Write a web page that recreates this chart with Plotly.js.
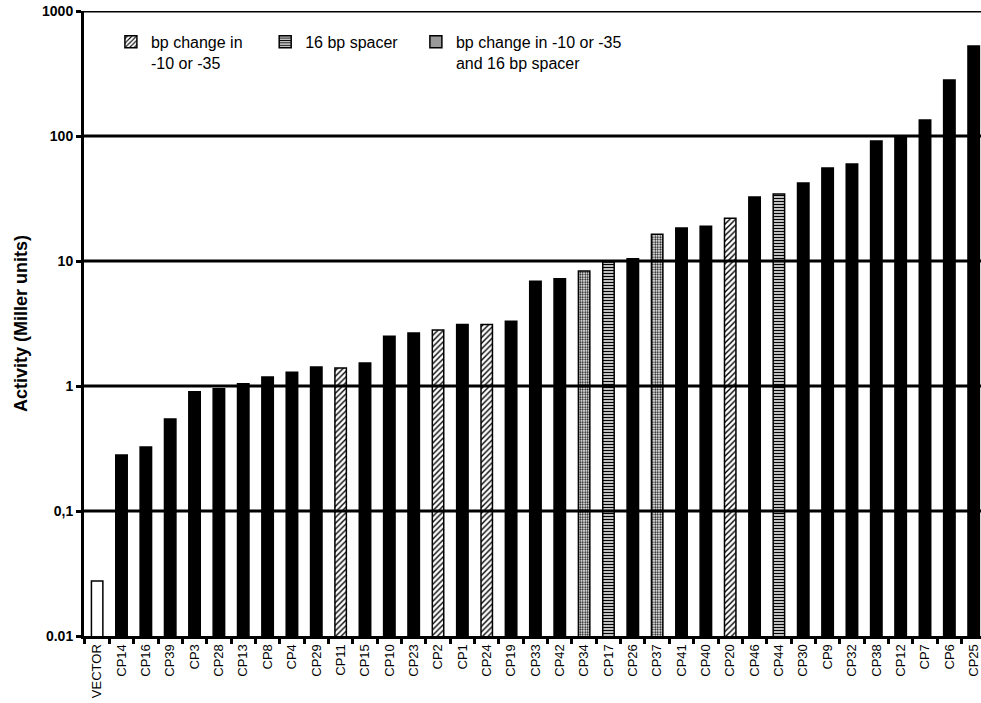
<!DOCTYPE html>
<html><head><meta charset="utf-8">
<script src="https://cdn.plot.ly/plotly-3.0.1.min.js"></script>
<style>html,body{margin:0;padding:0;background:#fff}</style>
</head><body>
<div id="chart" style="width:981px;height:703px"></div>
<script>
const categories = ["VECTOR","CP14","CP16","CP39","CP3","CP28","CP13","CP8","CP4","CP29","CP11","CP15","CP10","CP23","CP2","CP1","CP24","CP19","CP33","CP42","CP34","CP17","CP26","CP37","CP41","CP40","CP20","CP46","CP44","CP30","CP9","CP32","CP38","CP12","CP7","CP6","CP25"];
const activity = [0.0275,0.28,0.325,0.545,0.9,0.95,1.04,1.18,1.29,1.42,1.39,1.53,2.5,2.65,2.8,3.1,3.1,3.3,6.9,7.2,8.3,9.8,10.4,16.4,18.4,19,22,32.5,34.4,42,55.5,59.7,91,100,134,280,525];
// type: v = vector, n = plain, b = bp change in -10 or -35, s = 16 bp spacer, c = both
const types = ["v","n","n","n","n","n","n","n","n","n","b","n","n","n","b","n","b","n","n","n","c","s","n","c","n","n","b","n","s","n","n","n","n","n","n","n","n"];
const legendNames = {b:"bp change in<br>-10 or -35", s:"16 bp spacer", c:"bp change in -10 or -35<br>and 16 bp spacer"};
const yTickVals = [0.01,0.1,1,10,100,1000];
const yTickText = ["0.01","0,1","1","10","100","1000"];

const styles = {
  v:{color:"#ffffff", pattern:{shape:""}},
  n:{color:"#000000", pattern:{shape:""}},
  b:{color:"#ffffff", pattern:{shape:"/", fgcolor:"#000", bgcolor:"#fff", size:4, solidity:0.35}},
  s:{color:"#ffffff", pattern:{shape:"-", fgcolor:"#000", bgcolor:"#fff", size:3, solidity:0.5}},
  c:{color:"#ffffff", pattern:{shape:".", fgcolor:"#000", bgcolor:"#fff", size:2.5, solidity:0.45}}
};
const legendOf = {b:"legend", s:"legend2", c:"legend3"};
const order = ["v","n","b","s","c"];
const traces = order.map(t => {
  const xs=[], ys=[];
  categories.forEach((c,i)=>{ if(types[i]===t){ xs.push(c); ys.push(activity[i]); } });
  const tr = {
    type:"bar", x:xs, y:ys, name: legendNames[t] || "",
    showlegend: !!legendNames[t],
    marker:{color:styles[t].color, pattern:styles[t].pattern, line:{color:"#000", width:1.5}},
    hoverinfo:"x+y"
  };
  if (legendOf[t]) tr.legend = legendOf[t];
  return tr;
});

const shapes = yTickVals.slice(1).map(v => ({
  type:"line", xref:"paper", x0:0, x1:1, yref:"y", y0:v, y1:v,
  line:{color:"#000", width:3}, layer:"above"
}));

function leg(x){
  return {orientation:"v", x:x, y:0.978, xanchor:"left", yanchor:"top",
    font:{size:16, color:"#000"}, bgcolor:"rgba(0,0,0,0)", valign:"top", borderwidth:0};
}

const layout = {
  width:981, height:703,
  margin:{l:84, r:0, t:11, b:67},
  paper_bgcolor:"#fff", plot_bgcolor:"#fff",
  font:{family:"Arial, 'Liberation Sans', sans-serif", color:"#000"},
  barmode:"overlay", bargap:0.53,
  showlegend:true,
  legend:leg(0.03), legend2:leg(0.202), legend3:leg(0.37),
  xaxis:{type:"category", categoryorder:"array", categoryarray:categories,
    range:[-0.54, 36.3], tickangle:-90, tickfont:{size:13},
    showline:true, linecolor:"#000", linewidth:3, ticks:"outside", tickson:"boundaries",
    ticklen:5, tickwidth:3, tickcolor:"#000", showgrid:false, zeroline:false, fixedrange:true},
  yaxis:{type:"log", range:[-2,3], tickvals:yTickVals, ticktext:yTickText,
    tickfont:{size:14, weight:"bold"}, showline:true, linecolor:"#000", linewidth:3,
    ticks:"outside", ticklen:5, tickwidth:3, tickcolor:"#000", showgrid:false, zeroline:false,
    title:{text:"Activity (Miller units)", font:{size:18, weight:"bold"}, standoff:10}},
  shapes:shapes
};
Plotly.newPlot("chart", traces, layout, {displayModeBar:false, staticPlot:true});
</script>
</body></html>
